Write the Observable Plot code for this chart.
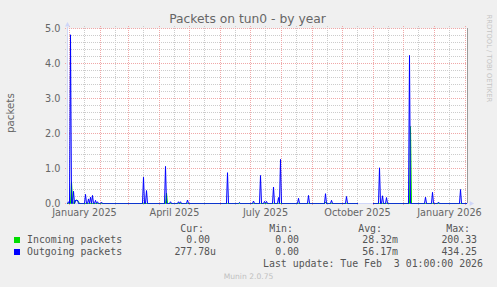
<!DOCTYPE html>
<html><head><meta charset="utf-8">
<script src="https://cdn.jsdelivr.net/npm/d3@7"></script>
<script src="https://cdn.jsdelivr.net/npm/@observablehq/plot@0.6"></script>
<style>
html,body{margin:0;padding:0;background:#F0F0F0;}
#wrap{position:relative;width:497px;height:287px;background:#F0F0F0;overflow:hidden;font-family:"DejaVu Sans",sans-serif;color:#666;}
.t{position:absolute;white-space:pre;line-height:1;}
.mono{font-family:"DejaVu Sans Mono",monospace;font-size:9.9px;color:#555;}
.sw{position:absolute;width:6px;height:6px;}
</style></head><body>
<div id="wrap">
  <div id="chart" style="position:absolute;left:0;top:0;"></div>
  <div class="t" style="left:-1px;width:497px;top:12.9px;font-size:12.3px;text-align:center;">Packets on tun0 - by year</div>
  <div class="t" style="left:-40px;width:100px;top:108px;font-size:10.3px;text-align:center;transform:rotate(-90deg);transform-origin:50% 50%;">packets</div>
  <div class="t" style="left:439px;width:100px;top:55px;font-size:6.8px;color:#c4c4c4;text-align:center;transform:rotate(90deg);transform-origin:50% 50%;">RRDTOOL / TOBI OETIKER</div>
  <div id="legend"></div>
  <div class="t" style="left:0;width:497px;top:273.1px;font-size:7.6px;color:#c0c0c0;text-align:center;">Munin 2.0.75</div>
</div>
<script>
// ---- data ----
const startDate = "2024-12-30";
const endDate = "2026-02-03";
const unknownFrom = "2025-10-17";
const unknownTo = "2025-10-31";

const outgoingDays = ["2024-12-31","2025-01-02","2025-01-05","2025-01-07","2025-01-08","2025-01-09","2025-01-17","2025-01-20","2025-01-22","2025-01-24","2025-01-27","2025-01-29","2025-02-02","2025-03-16","2025-03-19","2025-04-07","2025-04-12","2025-04-20","2025-04-22","2025-04-29","2025-06-08","2025-06-20","2025-07-04","2025-07-11","2025-07-15","2025-07-17","2025-07-24","2025-07-29","2025-07-31","2025-08-18","2025-08-28","2025-09-14","2025-09-20","2025-10-05","2025-11-07","2025-11-10","2025-11-14","2025-12-07","2025-12-23","2025-12-30","2026-01-05","2026-01-27"];
const outgoingValues = [0.05,4.82,0.35,0.10,0.07,0.10,0.26,0.13,0.18,0.23,0.09,0.05,0.04,0.75,0.37,1.06,0.05,0.05,0.05,0.10,0.88,0.03,0.07,0.80,0.06,0.06,0.47,0.17,1.26,0.15,0.23,0.28,0.09,0.20,1.02,0.22,0.17,4.23,0.18,0.32,0.04,0.40];

const incomingDays = ["2025-01-03","2025-01-04","2025-01-07","2025-01-08","2025-01-09","2025-01-10","2025-04-08","2025-09-14","2025-12-08"];
const incomingValues = [0.62,0.10,0.08,0.10,0.08,0.05,0.30,0.04,2.20];

const yTicks = [0,1,2,3,4,5];
const yTickLabels = ["0.0","1.0","2.0","3.0","4.0","5.0"];
const yMinor = [0.2,0.4,0.6,0.8,1.2,1.4,1.6,1.8,2.2,2.4,2.6,2.8,3.2,3.4,3.6,3.8,4.2,4.4,4.6,4.8];
const monthStarts = ["2025-01-01","2025-02-01","2025-03-01","2025-04-01","2025-05-01","2025-06-01","2025-07-01","2025-08-01","2025-09-01","2025-10-01","2025-11-01","2025-12-01","2026-01-01","2026-02-01"];
const midMonths = ["2025-01-16","2025-02-16","2025-03-16","2025-04-16","2025-05-16","2025-06-16","2025-07-16","2025-08-16","2025-09-16","2025-10-16","2025-11-16","2025-12-16","2026-01-16"];
const xLabelDates = ["2025-01-16","2025-04-16","2025-07-16","2025-10-16","2026-01-16"];
const xLabels = ["January 2025","April 2025","July 2025","October 2025","January 2026"];

const seriesNames = ["Incoming packets","Outgoing packets"];
const seriesColors = ["#00dd00","#0000ff"];
const curValues = ["0.00 ","277.78u"];
const minValues = ["0.00 ","0.00 "];
const avgValues = ["28.32m","56.17m"];
const maxValues = ["200.33 ","434.25 "];
const lastUpdate = "Last update: Tue Feb  3 01:00:00 2026";

// ---- build daily table ----
const d = s => new Date(s + "T00:00:00Z");
const start = d(startDate), end = d(endDate);
const outMap = new Map(outgoingDays.map((k,i)=>[k,outgoingValues[i]]));
const inMap = new Map(incomingDays.map((k,i)=>[k,incomingValues[i]]));
const rows = [];
for (let t = +start; t < +end; t += 864e5) {
  const key = new Date(t).toISOString().slice(0,10);
  const unk = key >= unknownFrom && key <= unknownTo;
  rows.push({date:new Date(t),
    incoming: unk ? null : (inMap.has(key) ? inMap.get(key) : 0),
    outgoing: unk ? null : (outMap.has(key) ? outMap.get(key) : 0)});
}

const axisCol = "#CFD6F8";
const chart = Plot.plot({
  width: 497, height: 225,
  marginLeft: 67, marginRight: 30, marginTop: 28, marginBottom: 22,
  style: {background:"transparent", fontFamily:"DejaVu Sans", fontSize:"9.7px", color:"#666", overflow:"visible"},
  x: {type:"utc", domain:[start,end]},
  y: {domain:[0,5]},
  marks: [
    Plot.frame({fill:"white", stroke:"none"}),
    Plot.ruleY(yMinor, {stroke:"#cccccc", strokeDasharray:"1,1", insetLeft:-2, insetRight:-2}),
    Plot.ruleX(midMonths.map(d), {stroke:"#cccccc", strokeDasharray:"1,1", insetTop:-2, insetBottom:-2}),
    Plot.ruleY(yTicks, {stroke:"#f0a8a8", strokeDasharray:"1,1", insetLeft:-2, insetRight:-2}),
    Plot.ruleX(monthStarts.map(d), {stroke:"#f0a8a8", strokeDasharray:"1,1", insetTop:-2, insetBottom:-2}),
    Plot.ruleX([end], {stroke:"#9a9a9a"}),
    Plot.ruleX([start], {stroke:axisCol, insetTop:-1}),
    Plot.ruleY([0], {stroke:axisCol, insetRight:-1}),
    Plot.dot([0], {frameAnchor:"top-left", dy:-3.6, symbol:"triangle", r:1.9, fill:axisCol, stroke:"none"}),
    Plot.dot([0], {frameAnchor:"bottom-right", dx:3.6, rotate:90, symbol:"triangle", r:1.9, fill:axisCol, stroke:"none"}),
    Plot.line(rows, {x:"date", y:"incoming", stroke:seriesColors[0], strokeWidth:1}),
    Plot.line(rows, {x:"date", y:"outgoing", stroke:seriesColors[1], strokeWidth:1}),
    Plot.axisY(yTicks, {tickSize:0, tickPadding:7, tickFormat:(v,i)=>yTickLabels[i], label:null}),
    Plot.axisX(xLabelDates.map(d), {tickSize:0, tickPadding:5.5, tickFormat:(v,i)=>xLabels[i], label:null})
  ]
});
document.getElementById("chart").appendChild(chart);

// ---- legend ----
const lg = document.getElementById("legend");
function txt(s, opts) {
  const e = document.createElement("div");
  e.className = "t mono";
  e.textContent = s;
  if (opts.left != null) e.style.left = opts.left + "px";
  if (opts.right != null) e.style.right = (497 - opts.right) + "px";
  e.style.top = opts.top + "px";
  lg.appendChild(e);
}
const base = [232, 243.7, 255.4, 267.1].map(b => b - 8.38);
txt("Cur:", {right:204, top:base[0]});
txt("Min:", {right:293, top:base[0]});
txt("Avg:", {right:382, top:base[0]});
txt("Max:", {right:470, top:base[0]});
seriesNames.forEach((name,i) => {
  const sw = document.createElement("div");
  sw.className = "sw";
  sw.style.left = "14px";
  sw.style.top = (237 + i*11.7) + "px";
  sw.style.background = seriesColors[i];
  lg.appendChild(sw);
  txt(name, {left:27, top:base[i+1]});
  txt(curValues[i], {right:216, top:base[i+1]});
  txt(minValues[i], {right:305, top:base[i+1]});
  txt(avgValues[i], {right:398, top:base[i+1]});
  txt(maxValues[i], {right:483, top:base[i+1]});
});
txt(lastUpdate, {right:483, top:base[3]});
</script>
</body></html>
